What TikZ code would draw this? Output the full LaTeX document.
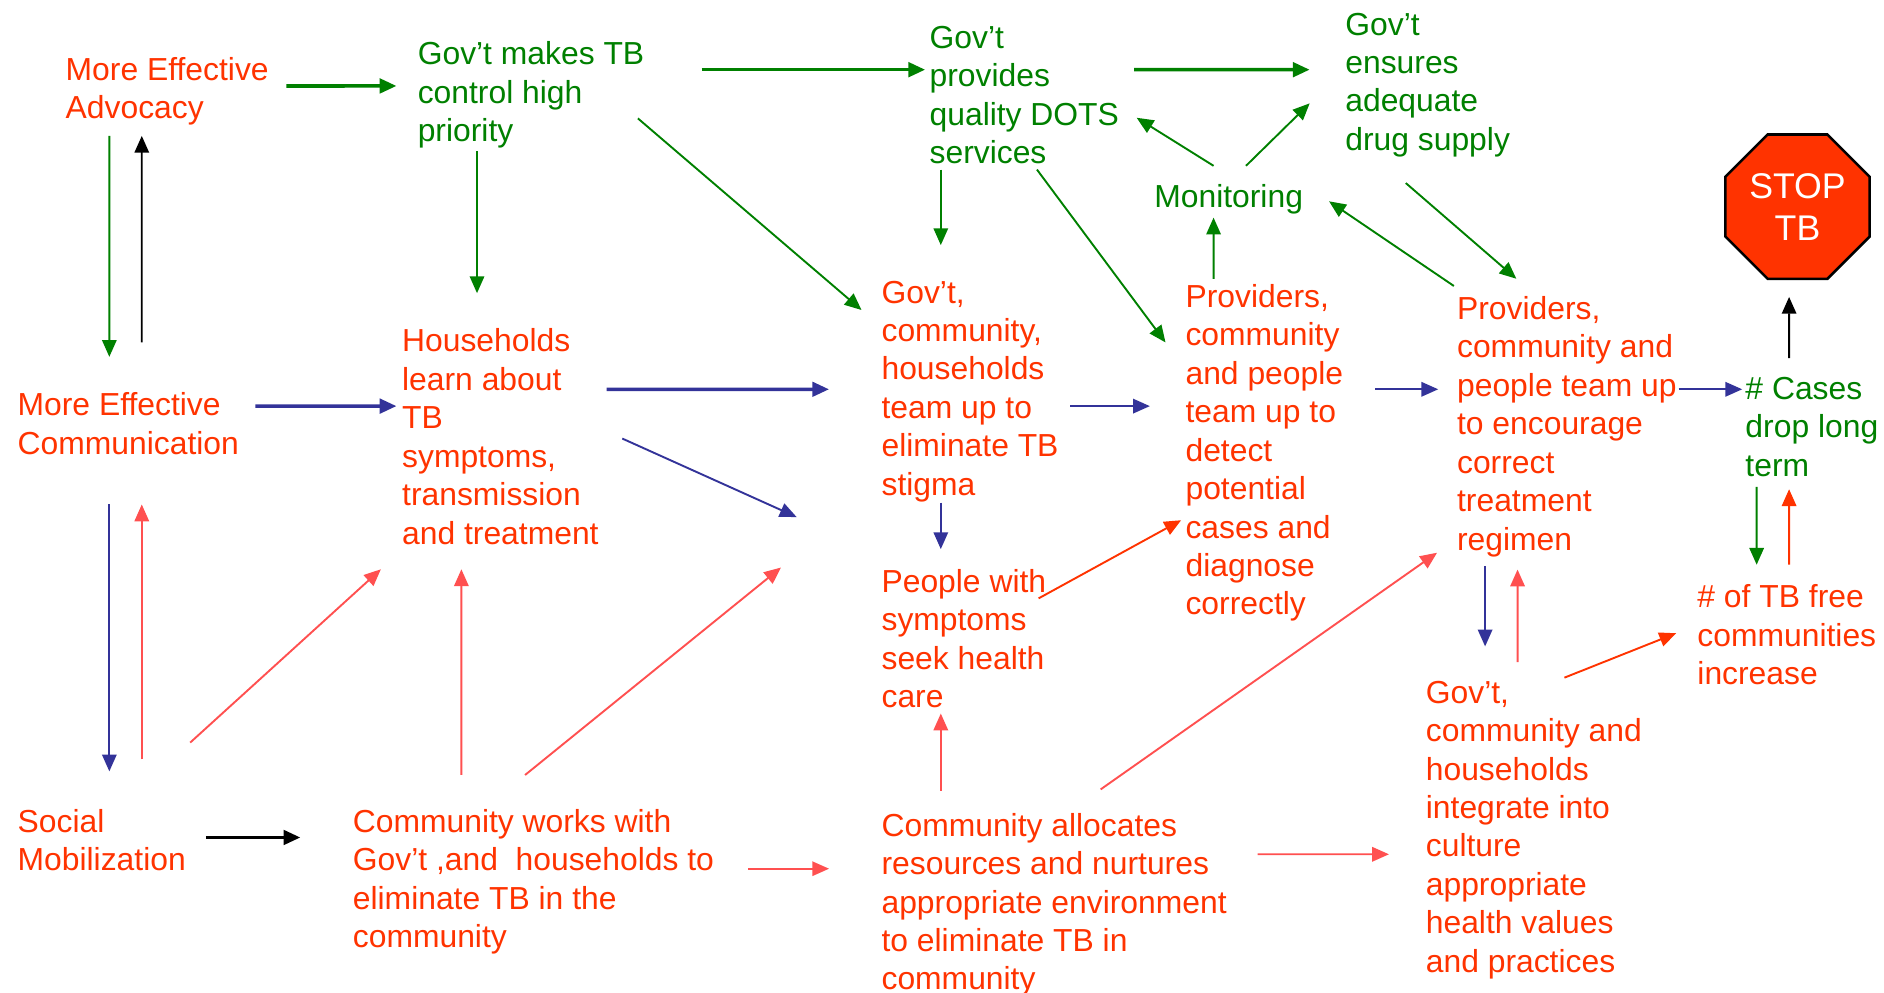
\documentclass[tikz,border=0pt]{standalone}
\usepackage{fontspec}
\setmainfont{Liberation Sans}
\usetikzlibrary{arrows.meta,shapes.geometric}
\definecolor{txtred}{HTML}{FF3300}
\definecolor{grn}{HTML}{008000}
\definecolor{navy}{HTML}{333399}
\definecolor{lightred}{HTML}{FF5050}
\tikzset{box/.style={anchor=north west,inner sep=0pt,align=left,font=\fontsize{7.54}{9.1}\selectfont}}
\tikzset{rbox/.style={box,text=txtred},gbox/.style={box,text=grn}}
\tikzset{gline/.style={color=grn,line width=0.45pt},bline/.style={color=navy,line width=0.45pt},
  kline/.style={color=black,line width=0.45pt},pline/.style={color=lightred,line width=0.45pt},
  rline/.style={color=txtred,line width=0.45pt},fat/.style={line width=0.85pt}}

\begin{document}
\begin{tikzpicture}[>={Triangle[length=1.4mm,width=1.2mm]}]
\useasboundingbox (0,0) rectangle (15.68,-8.26);
% top row
\node (adv) [rbox] at (0.54,-0.47) {More Effective\\Advocacy};
\node (prio) [gbox] at (3.47,-0.34) {Gov’t makes TB\\control high\\priority};
\node (dots) [gbox] at (7.73,-0.21) {Gov’t\\provides\\quality DOTS\\services};
\node (drug) [gbox] at (11.19,-0.10) {Gov’t\\ensures\\adequate\\drug supply};
\node (mon) [gbox] at (9.60,-1.53) {Monitoring};
\node (stop) [regular polygon,regular polygon sides=8,minimum size=1.30cm,inner sep=0pt,
  fill=txtred,draw=black,line width=0.6pt,text=white,align=center,
  font=\fontsize{8.45}{9.96}\selectfont] at (14.96,-1.72) {STOP\\TB};
% middle row
\node (comm) [rbox] at (0.14,-3.26) {More Effective\\Communication};
\node (hh) [rbox] at (3.34,-2.73) {Households\\learn about\\TB\\symptoms,\\transmission\\and treatment};
\node (team) [rbox] at (7.33,-2.33) {Gov’t,\\community,\\households\\team up to\\eliminate TB\\stigma};
\node (detect) [rbox] at (9.86,-2.36) {Providers,\\community\\and people\\team up to\\detect\\potential\\cases and\\diagnose\\correctly};
\node (regimen) [rbox] at (12.12,-2.46) {Providers,\\community and\\people team up\\to encourage\\correct\\treatment\\regimen};
\node (cases) [gbox] at (14.52,-3.13) {\# Cases\\drop long\\term};
\node (free) [rbox] at (14.12,-4.86) {\# of TB free\\communities\\increase};
\node (seek) [rbox] at (7.33,-4.73) {People with\\symptoms\\seek health\\care};
% bottom row
\node (soc) [rbox] at (0.14,-6.73) {Social\\Mobilization};
\node (works) [rbox] at (2.93,-6.73) {Community works with\\Gov’t ,and~ households to\\eliminate TB in the\\community};
\node (alloc) [rbox] at (7.33,-6.76) {Community allocates\\resources and nurtures\\appropriate environment\\to eliminate TB in\\community};
\node (integ) [rbox] at (11.86,-5.66) {Gov’t,\\community and\\households\\integrate into\\culture\\appropriate\\health values\\and practices};
%
\path[->,gline,fat] ([shift={(0.14,0.045)}]adv.east) edge ([shift={(-0.17,0.075)}]prio.west);
\path[->,gline] ([shift={(0.37,-0.08)}]adv.south west) edge ([shift={(0.77,0.29)}]comm.north west);
\path[->,kline] ([shift={(1.04,0.41)}]comm.north west) edge ([shift={(0.64,-0.08)}]adv.south west);
\path[->,gline,fat] ([shift={(0.47,-0.24)}]prio.north east) edge ([shift={(-0.03,-0.37)}]dots.north west);
\path[->,gline,fat] ([shift={(0.12,-0.37)}]dots.north east) edge ([shift={(-0.29,-0.48)}]drug.north west);
\path[->,gline] ([shift={(0.50,-0.02)}]prio.south west) edge ([shift={(0.63,0.29)}]hh.north west);
\path[->,gline] ([shift={(-0.06,-0.195)}]prio.east) edge ([shift={(-0.16,-0.25)}]team.north west);
\path[->,gline] ([shift={(0.10,-0.04)}]dots.south west) edge ([shift={(0.50,0.29)}]team.north west);
\path[->,gline] ([shift={(0.90,-0.04)}]dots.south west) edge ([shift={(-0.16,-0.49)}]detect.north west);
\path[->,gline] ([shift={(0.50,0.15)}]mon.north west) edge ([shift={(0.14,-0.77)}]dots.north east);
\path[->,gline] ([shift={(0.77,0.15)}]mon.north west) edge ([shift={(-0.29,-0.76)}]drug.north west);
\path[->,gline] ([shift={(0.24,0.04)}]detect.north west) edge ([shift={(0.50,-0.02)}]mon.south west);
\path[->,gline] ([shift={(-0.02,0.08)}]regimen.north west) edge ([shift={(0.21,-0.015)}]mon.east);
\path[->,gline] ([shift={(0.51,-0.21)}]drug.south west) edge ([shift={(0.50,0.14)}]regimen.north west);
\path[->,gline] ([shift={(0.10,-0.08)}]cases.south west) edge ([shift={(0.50,0.16)}]free.north west);
%
\path[->,bline,fat] ([shift={(0.13,-0.12)}]comm.north east) edge ([shift={(-0.04,-0.65)}]hh.north west);
\path[->,bline,fat] ([shift={(0.06,-0.51)}]hh.north east) edge ([shift={(-0.43,-0.91)}]team.north west);
\path[->,bline] ([shift={(0.19,-0.92)}]hh.north east) edge ([shift={(-0.70,-0.12)}]team.south west);
\path[->,bline] ([shift={(0.09,-1.05)}]team.north east) edge ([shift={(-0.29,-1.02)}]detect.north west);
\path[->,bline] ([shift={(0.26,-0.88)}]detect.north east) edge ([shift={(-0.15,-0.78)}]regimen.north west);
\path[->,bline] ([shift={(0.01,-0.78)}]regimen.north east) edge ([shift={(-0.02,-0.11)}]cases.north west);
\path[->,bline] ([shift={(0.77,-0.41)}]comm.south west) edge ([shift={(0.77,0.31)}]soc.north west);
\path[->,bline] ([shift={(0.50,0)}]team.south west) edge ([shift={(0.50,0.16)}]seek.north west);
\path[->,bline] ([shift={(0.24,-0.07)}]regimen.south west) edge ([shift={(0.50,0.28)}]integ.north west);
%
\path[->,kline] ([shift={(0.37,0.15)}]cases.north west) edge ([shift={(-0.07,-0.14)}]stop.south);
\path[->,kline,fat] ([shift={(0.16,-0.24)}]soc.north east) edge ([shift={(-0.43,-0.24)}]works.north west);
%
\path[->,pline] ([shift={(1.04,0.41)}]soc.north west) edge ([shift={(1.04,-0.41)}]comm.south west);
\path[->,pline] ([shift={(0.03,0.55)}]soc.north east) edge ([shift={(-0.17,-0.20)}]hh.south west);
\path[->,pline] ([shift={(0.91,0.28)}]works.north west) edge ([shift={(0.50,-0.20)}]hh.south west);
\path[->,pline] ([shift={(1.44,0.28)}]works.north west) edge ([shift={(-0.83,-0.54)}]team.south west);
\path[->,pline] ([shift={(0.28,-0.50)}]works.north east) edge ([shift={(-0.43,-0.47)}]alloc.north west);
\path[->,pline] ([shift={(0.50,0.18)}]alloc.north west) edge ([shift={(0.50,-0.04)}]seek.south west);
\path[->,pline] ([shift={(1.83,0.19)}]alloc.north west) edge ([shift={(-0.16,0.04)}]regimen.south west);
\path[->,pline] ([shift={(0.25,-0.35)}]alloc.north east) edge ([shift={(-0.30,-1.45)}]integ.north west);
\path[->,pline] ([shift={(0.77,0.15)}]integ.north west) edge ([shift={(0.51,-0.10)}]regimen.south west);
%
\path[->,rline] ([shift={(0.77,0.16)}]free.north west) edge ([shift={(0.37,-0.10)}]cases.south west);
\path[->,rline] ([shift={(-0.07,-0.25)}]seek.north east) edge ([shift={(-0.03,0.85)}]detect.south west);
\path[->,rline] ([shift={(1.16,0.02)}]integ.north west) edge ([shift={(-0.17,-0.41)}]free.north west);
\end{tikzpicture}
\end{document}
